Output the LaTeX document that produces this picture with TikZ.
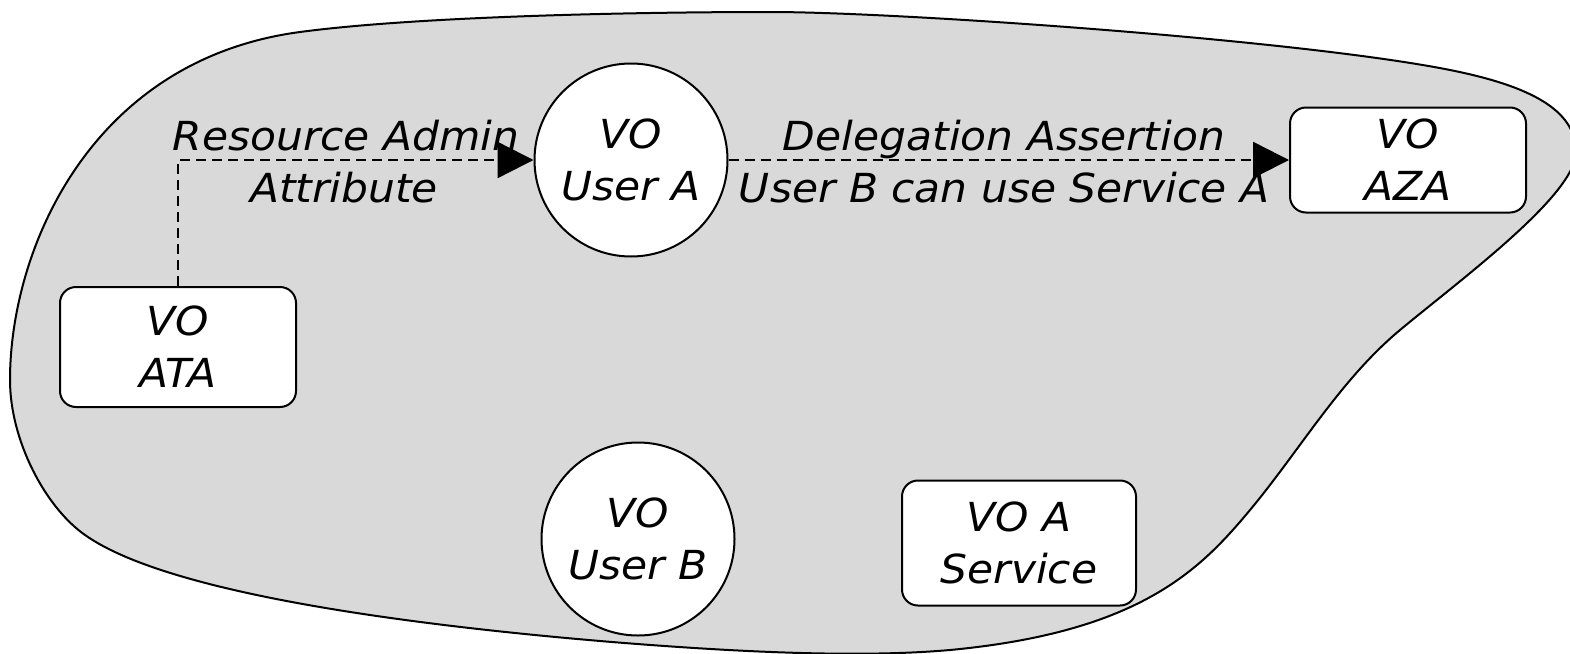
\documentclass[tikz,border=0pt]{standalone}
\usepackage{fontspec}
\setmainfont{DejaVu Sans}[FakeStretch=1.06]
\usetikzlibrary{arrows.meta}
\tikzset{
  lbl/.style={font=\fontsize{40}{52}\selectfont\itshape, align=center},
  party/.style={lbl, circle, draw, fill=white, line width=2pt, minimum size=193pt, inner sep=0pt},
  authority/.style={lbl, rectangle, rounded corners=16pt, draw, fill=white, line width=2pt, inner sep=0pt},
  flow/.style={line width=2.4pt, dash pattern=on 10pt off 6pt, -{Triangle[length=36pt,width=36pt]}},
  caption/.style={lbl, anchor=base, inner sep=0pt}
}
\begin{document}
\begin{tikzpicture}[x=1pt,y=-1pt]
\useasboundingbox (0,0) rectangle (1570,653);

% virtual organisation boundary
\draw[line width=2pt, fill=black!15]
  (10,380) .. controls (10,250) and (90,60) .. (300,32)
  .. controls (420,16) and (640,12) .. (770,12)
  .. controls (900,12) and (1300,40) .. (1450,70)
  .. controls (1530,86) and (1576,110) .. (1576,152)
  .. controls (1576,195) and (1460,280) .. (1400,330)
  .. controls (1340,380) and (1300,450) .. (1250,510)
  .. controls (1200,570) and (1140,632) .. (950,650)
  .. controls (870,657) and (760,654) .. (612,642)
  .. controls (420,626) and (170,595) .. (85,535)
  .. controls (45,507) and (10,440) .. cycle;

% members of the organisation
\node[party] (usera) at (631,160) {VO\\User A};
\node[party] (userb) at (638,539) {VO\\User B};
\node[authority, minimum width=236pt, minimum height=120pt] (ata) at (178,347) {VO\\ATA};
\node[authority, minimum width=236pt, minimum height=105pt] (aza) at (1408,160) {VO\\AZA};
\node[authority, minimum width=234pt, minimum height=125pt] (svc) at (1019,543) {VO A\\Service};

% assertions passed between them
\draw[flow] (ata.north) |- (usera.west);
\draw[flow] (usera.east) -- (aza.west);

\node[caption] (ra) at (346,150) {Resource Admin};
\node[caption] (attr) at (344,202) {Attribute};
\node[caption] (da) at (1004,150) {Delegation Assertion};
\node[caption] (ub) at (1004,202) {User B can use Service A};
\end{tikzpicture}
\end{document}
